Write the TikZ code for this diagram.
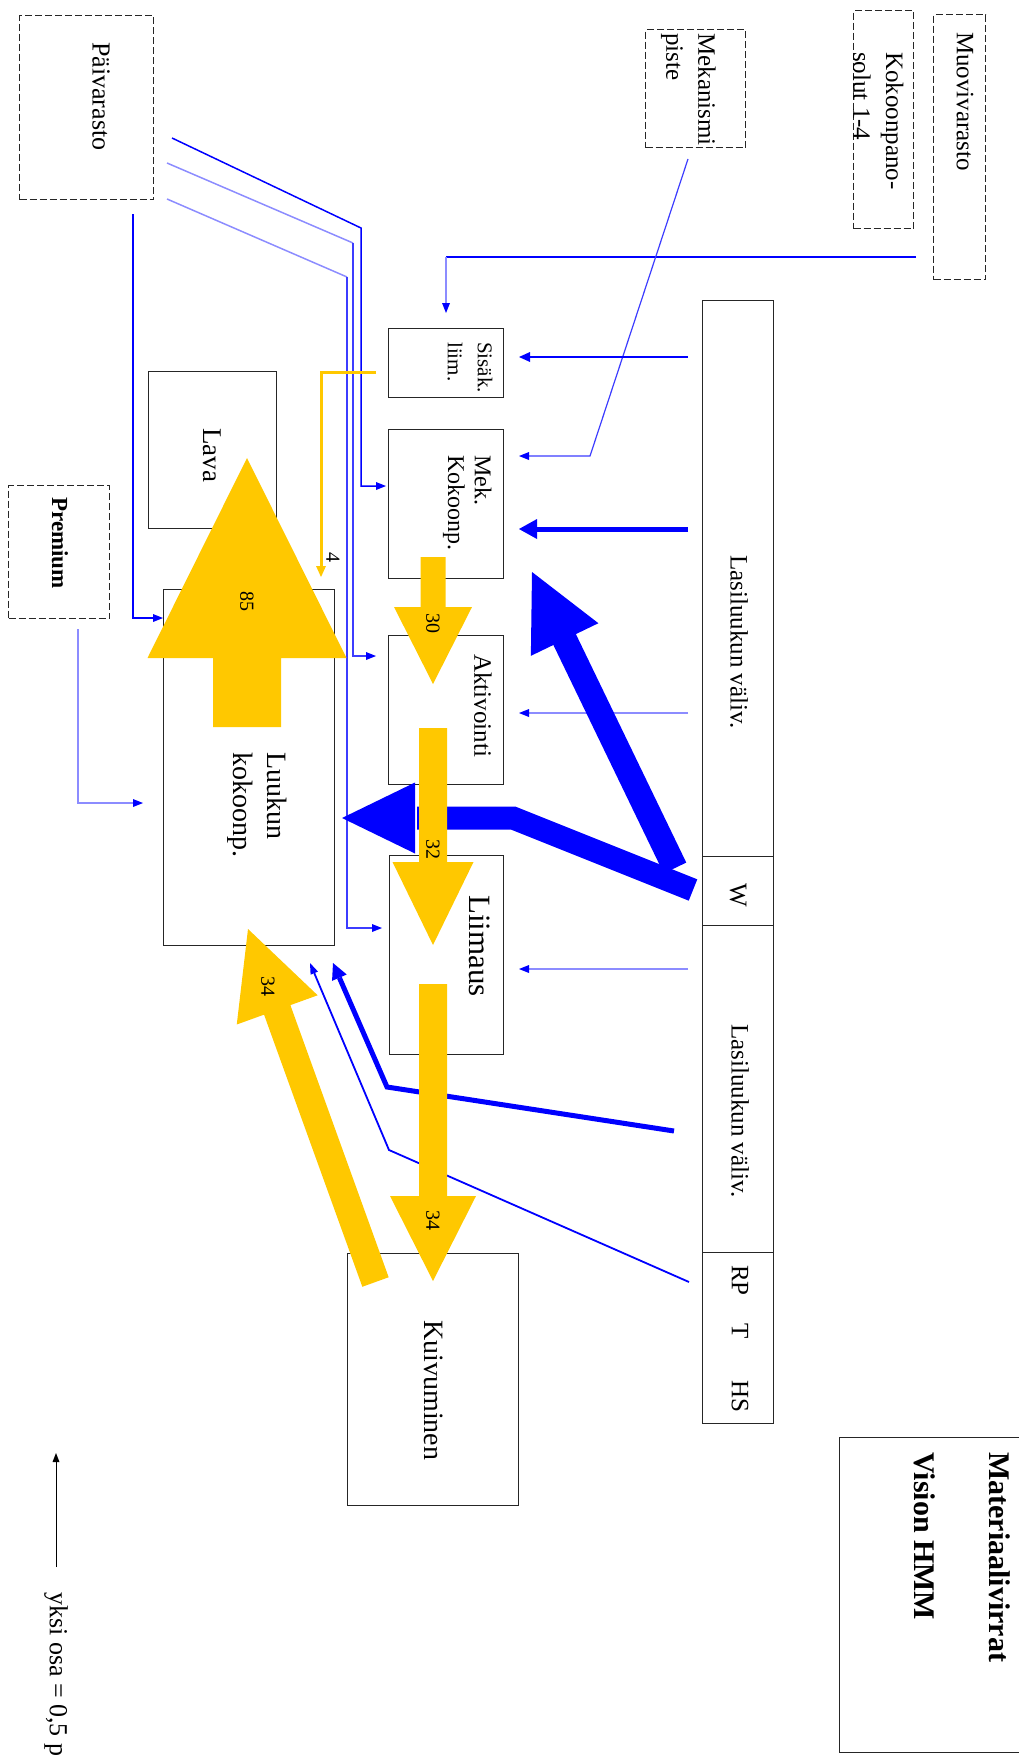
\documentclass[tikz,border=0pt]{standalone}
\usepackage{fontspec}
\setmainfont{Liberation Serif}
\usetikzlibrary{calc,arrows.meta}
\definecolor{ylw}{HTML}{FFC800}
\definecolor{bl}{HTML}{0000FF}
\definecolor{pbl}{HTML}{8C8CFF}
\definecolor{mbl}{HTML}{3C3CFF}
\newcommand\blockarrow[6]{%
  \coordinate (#1base) at ($(#2)!#5!(#1)$);
  \fill[#6] ($(#1)!#3!90:(#2)$) -- ($(#1base)!#3!90:(#2)$) -- ($(#1base)!#4!90:(#2)$) -- (#2)
    -- ($(#1base)!#4!-90:(#2)$) -- ($(#1base)!#3!-90:(#2)$) -- ($(#1)!#3!-90:(#2)$) -- cycle;}
\tikzset{
  box/.style={draw=black!85, line width=1.4pt, inner sep=0pt, anchor=north west},
  dbox/.style={box, dash pattern=on 7pt off 3pt},
  txt/.style={rotate=-90, anchor=west, inner sep=0pt, font=\fontsize{25pt}{30pt}\selectfont},
  num/.style={rotate=-90, inner sep=0pt, font=\fontsize{20pt}{24pt}\selectfont},
  tip/.style={-{Triangle[length=10pt,width=8pt,line width=0pt]}},
  ptip/.style={-{Triangle[length=10pt,width=8pt,line width=0pt,color=bl]}},
  bline/.style={draw=bl, line width=1.5pt},
  pline/.style={draw=pbl, line width=1.5pt},
  mline/.style={draw=mbl, line width=1.5pt},
}
\begin{document}
\begin{tikzpicture}[x=1pt,y=-1pt]
\useasboundingbox (0,0) rectangle (1018,1755);
% ---------- boxes ----------
\node[dbox, minimum width=134pt, minimum height=184pt] (paiv) at (19,15) {};
\node[dbox, minimum width=100pt, minimum height=118pt] (mekp) at (645,29) {};
\node[dbox, minimum width=60pt, minimum height=218pt] (koko) at (853,10) {};
\node[dbox, minimum width=52pt, minimum height=265pt] (muov) at (933,14) {};
\node[dbox, minimum width=101pt, minimum height=133pt] (prem) at (8,485) {};
\node[box, minimum width=115pt, minimum height=69pt] (sisak) at (388,328) {};
\node[box, minimum width=115pt, minimum height=149pt] (mek) at (388,429) {};
\node[box, minimum width=115pt, minimum height=149pt] (akt) at (388,635) {};
\node[box, minimum width=114pt, minimum height=199pt] (liim) at (389,855) {};
\node[box, minimum width=128pt, minimum height=157pt] (lava) at (148,371) {};
\node[box, minimum width=171pt, minimum height=356pt] (luuk) at (163,589) {};
\node[box, minimum width=171pt, minimum height=252pt] (kuiv) at (347,1253) {};
\node[box, minimum width=71pt, minimum height=556pt] (col1) at (702,300) {};
\node[box, minimum width=71pt, minimum height=69pt] (colw) at (702,856) {};
\node[box, minimum width=71pt, minimum height=327pt] (col2) at (702,925) {};
\node[box, minimum width=71pt, minimum height=171pt] (col3) at (702,1252) {};
\node[box, minimum width=200pt, minimum height=315pt] (title) at (839,1437) {};
% ---------- texts ----------
\node[txt, font=\fontsize{26pt}{30pt}\selectfont] (tpaiv) at (101,42) {Päivarasto};
\node[txt] (tmek1) at (707,33) {Mekanismi};
\node[txt] (tmek2) at (672,33) {piste};
\node[txt] (tkok1) at (892,52) {Kokoonpano-};
\node[txt] (tkok2) at (862,52) {solut 1-4};
\node[txt] (tmuov) at (965,32) {Muovivarasto};
\node[txt, font=\fontsize{21pt}{25pt}\selectfont] (tsis1) at (485,342) {Sisäk.};
\node[txt, font=\fontsize{21pt}{25pt}\selectfont] (tsis2) at (455,342) {liim.};
\node[txt, font=\fontsize{24pt}{29pt}\selectfont] (tmk1) at (483,455) {Mek.};
\node[txt, font=\fontsize{24pt}{29pt}\selectfont] (tmk2) at (454,455) {Kokoonp.};
\node[txt] (takt) at (483,654) {Aktivointi};
\node[txt, font=\fontsize{31pt}{36pt}\selectfont] (tliim) at (480,895) {Liimaus};
\node[txt, font=\fontsize{27pt}{32pt}\selectfont] (tlava) at (212,428) {Lava};
\node[txt, font=\fontsize{28pt}{34pt}\selectfont] (tluu1) at (277,752) {Luukun};
\node[txt, font=\fontsize{28pt}{34pt}\selectfont] (tluu2) at (240,752) {kokoonp.};
\node[txt, font=\fontsize{28pt}{34pt}\selectfont] (tkuiv) at (434,1320) {Kuivuminen};
\node[txt, font=\bfseries\fontsize{23pt}{28pt}\selectfont] (tprem) at (60,497) {Premium};
\node[txt] (tcol1) at (739,555) {Lasiluukun väliv.};
\node[txt] (tcolw) at (738,883) {W};
\node[txt] (tcol2) at (740,1024) {Lasiluukun väliv.};
\node[txt] (trp) at (740,1265) {RP};
\node[txt] (tt) at (740,1323) {T};
\node[txt] (ths) at (740,1380) {HS};
\node[txt, font=\bfseries\fontsize{30pt}{36pt}\selectfont] (ttit1) at (1000,1452) {Materiaalivirrat};
\node[txt, font=\bfseries\fontsize{30pt}{36pt}\selectfont] (ttit2) at (925,1452) {Vision HMM};
\node[txt, font=\fontsize{26pt}{31pt}\selectfont] (tleg) at (56,1592) {yksi osa = 0,5 p};
% ---------- thin blue connectors ----------
\coordinate (a1) at (172,138); \coordinate (a1b) at (361,228); \coordinate (a1c) at (361,486); \coordinate (a1e) at (386,486);
\draw[bline, tip] (a1) -- (a1b) -- (a1c) -- (a1e);
\coordinate (a2) at (167,163); \coordinate (a2b) at (353,243); \coordinate (a2c) at (353,656); \coordinate (a2e) at (376,656);
\draw[pline] (a2) -- (a2b);
\draw[mline, ptip] (a2b) -- (a2c) -- (a2e);
\coordinate (a3) at (167,199); \coordinate (a3b) at (347,277); \coordinate (a3c) at (347,928); \coordinate (a3e) at (382,928);
\draw[pline] (a3) -- (a3b);
\draw[mline, ptip] (a3b) -- (a3c) -- (a3e);
\coordinate (a4) at (133,214); \coordinate (a4c) at (133,618);
\draw[bline, tip] (a4) -- (a4c) -- (luuk.west |- a4c);
\coordinate (m1) at (916,257); \coordinate (m1b) at (446,257); \coordinate (m1e) at (446,313);
\draw[bline] (m1) -- (m1b);
\draw[pline, ptip] (m1b) -- (m1e);
\coordinate (k1) at (688,159); \coordinate (k1b) at (590,456); \coordinate (k1e) at (519,456);
\draw[draw=mbl, line width=1.2pt, ptip] (k1) -- (k1b) -- (k1e);
\coordinate (r1) at (688,357); \coordinate (r1e) at (519,357);
\draw[draw=bl, line width=2.5pt, -{Triangle[length=11pt,width=10pt,line width=0pt]}] (r1) -- (r1e);
\coordinate (r2) at (688,529); \coordinate (r2e) at (519,529);
\draw[draw=bl, line width=5pt, -{Triangle[length=18pt,width=20pt,line width=0pt]}] (r2) -- (r2e);
\coordinate (r3) at (688,713); \coordinate (r3e) at (519,713);
\draw[pline, ptip] (r3) -- (r3e);
\coordinate (r4) at (688,969); \coordinate (r4e) at (519,969);
\draw[pline, ptip] (r4) -- (r4e);
\coordinate (pr1) at (78,629); \coordinate (pr1b) at (78,803); \coordinate (pr1e) at (143,803);
\draw[draw=pbl, line width=1.8pt, ptip] (pr1) -- (pr1b) -- (pr1e);
% ---------- lines from lower column ----------
\coordinate (c1) at (674,1131); \coordinate (c1b) at (387,1087); \coordinate (c1e) at (333,963);
\draw[draw=bl, line width=5pt, line join=miter, -{Triangle[length=16pt,width=16pt,line width=0pt]}] (c1) -- (c1b) -- (c1e);
\coordinate (d1) at (689,1282); \coordinate (d1b) at (389,1150); \coordinate (d1e) at (310,963);
\draw[draw=bl, line width=1.8pt, -{Triangle[length=11pt,width=8pt,line width=0pt]}] (d1) -- (d1b) -- (d1e);
% ---------- big blue arrows ----------
\coordinate (ba) at (675,868); \coordinate (bat) at (532,572);
\blockarrow{ba}{bat}{12.5pt}{37.5pt}{75pt}{bl}
\coordinate (bb) at (693,890); \coordinate (bbm) at (513,818); \coordinate (bbs) at (417,818); \coordinate (bbt) at (342,818);
\draw[draw=bl, line width=23pt, line join=miter] (bb) -- (bbm) -- (bbs);
\fill[bl] (415,782.5) -- (bbt) -- (415,853.5) -- cycle;
% ---------- yellow arrows ----------
\coordinate (y4) at (376,372); \coordinate (y4b) at (321,372); \coordinate (y4e) at (321,577);
\draw[draw=ylw, line width=3pt, -{Triangle[length=11pt,width=10pt,line width=0pt]}] (y4) -- (y4b) -- (y4e);
\coordinate (y85) at (247,727); \coordinate (y85t) at (247,458);
\blockarrow{y85}{y85t}{34pt}{99.5pt}{200pt}{ylw}
\coordinate (y30) at (433,557); \coordinate (y30t) at (433,684);
\blockarrow{y30}{y30t}{12.5pt}{39pt}{77pt}{ylw}
\coordinate (y32) at (433,728); \coordinate (y32t) at (433,945);
\blockarrow{y32}{y32t}{14pt}{40.5pt}{83pt}{ylw}
\coordinate (y34) at (433,984); \coordinate (y34t) at (433,1281);
\blockarrow{y34}{y34t}{14pt}{43pt}{85pt}{ylw}
\coordinate (y34b) at (375.5,1282); \coordinate (y34bt) at (248,929);
\blockarrow{y34b}{y34bt}{14pt}{43pt}{86pt}{ylw}
% ---------- numbers ----------
\node[num] (n85) at (247,601) {85};
\node[num] (n30) at (433,623) {30};
\node[num] (n32) at (433,849) {32};
\node[num] (n34) at (433,1220) {34};
\node[num] (n34b) at (268,986) {34};
\node[num] (n4) at (333,557) {4};
% ---------- legend ----------
\coordinate (lg1) at (56,1567); \coordinate (lg2) at (56,1453);
\draw[line width=1pt, -{Triangle[length=9pt,width=7pt,line width=0pt]}] (lg1) -- (lg2);
\end{tikzpicture}
\end{document}
